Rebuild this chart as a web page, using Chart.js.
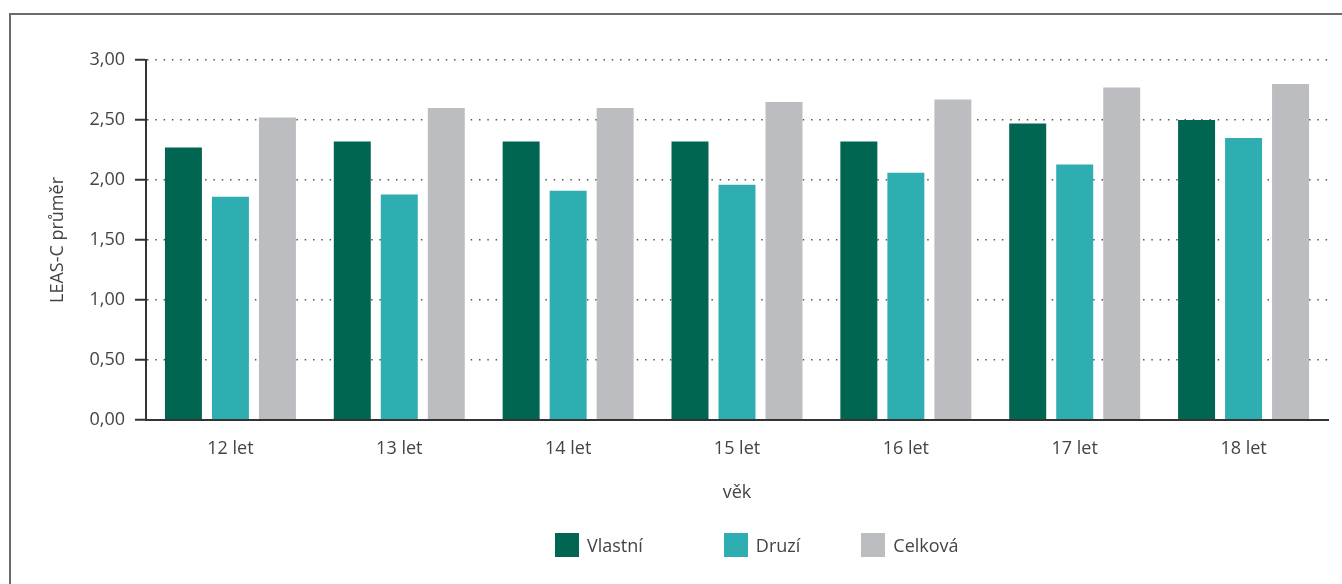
<!DOCTYPE html>
<html lang="cs">
<head>
    <meta charset="UTF-8">
    <title>LEAS-C průměr podle věku</title>
    <script src="https://cdn.jsdelivr.net/npm/chart.js"></script>
    <style>
        html, body { margin: 0; padding: 0; background: #fff; }
        body { width: 1342px; height: 584px; position: relative; overflow: hidden; font-family: "Open Sans", sans-serif; }
        .frame { position: absolute; left: 9px; top: 13px; right: -4px; bottom: -4px; border-top: 2px solid #6b6b6b; border-left: 2px solid #6b6b6b; }
        canvas { position: absolute; left: 0; top: 0; }
        #legend { position: absolute; left: 555px; top: 533px; display: flex; align-items: center; }
        #legend .item { display: flex; align-items: center; font-size: 18px; color: #444; }
        #legend .box { width: 24px; height: 24px; margin-right: 8px; }
    </style>
</head>
<body>
    <div class="frame"></div>
    <canvas id="chart" width="1342" height="584"></canvas>
    <div id="legend"></div>
    <script>
        // data
        const categories = ['12 let', '13 let', '14 let', '15 let', '16 let', '17 let', '18 let'];
        const vlastni = [2.27, 2.32, 2.32, 2.32, 2.32, 2.47, 2.50];
        const druzi = [1.86, 1.88, 1.91, 1.96, 2.06, 2.13, 2.35];
        const celkova = [2.52, 2.60, 2.60, 2.65, 2.67, 2.77, 2.80];
        const seriesNames = ['Vlastní', 'Druzí', 'Celková'];

        const colors = ['#006652', '#2eaeb0', '#bcbdc0'];
        const textColor = '#444';
        const font = { family: '"Open Sans", sans-serif', size: 18 };

        const datasets = [vlastni, druzi, celkova].map((d, i) => ({
            label: seriesNames[i],
            data: d,
            backgroundColor: colors[i],
            barPercentage: 0.787,
            categoryPercentage: 0.835
        }));

        new Chart(document.getElementById('chart'), {
            type: 'bar',
            data: { labels: categories, datasets: datasets },
            options: {
                responsive: false,
                animation: false,
                devicePixelRatio: 1,
                layout: { padding: { left: 43, top: 60, right: 14, bottom: 76 } },
                plugins: { legend: { display: false }, tooltip: { enabled: false } },
                scales: {
                    x: {
                        grid: { display: false },
                        border: { display: true, color: '#333', width: 2, z: 1 },
                        ticks: { padding: 10, color: textColor, font: font },
                        title: { display: true, text: 'věk', color: textColor, font: font },
                        afterFit: s => { s.height = 88; }
                    },
                    y: {
                        min: 0,
                        max: 3,
                        ticks: {
                            stepSize: 0.5,
                            padding: 10,
                            color: textColor,
                            font: font,
                            callback: v => v.toFixed(2).replace('.', ',')
                        },
                        grid: { color: '#555', lineWidth: 1.5, tickLength: 11, tickColor: '#333', tickWidth: 2, tickBorderDash: [] },
                        border: { display: true, color: '#333', width: 2, dash: [1.5, 6.8] },
                        title: { display: true, text: 'LEAS-C průměr', color: textColor, font: font },
                        afterFit: s => { s.width = 103; }
                    }
                }
            }
        });

        // legenda
        const gaps = [81, 61, 0];
        const legend = document.getElementById('legend');
        seriesNames.forEach((name, i) => {
            const item = document.createElement('div');
            item.className = 'item';
            item.style.marginRight = gaps[i] + 'px';
            item.innerHTML = '<span class="box" style="background:' + colors[i] + '"></span><span>' + name + '</span>';
            legend.appendChild(item);
        });
    </script>
</body>
</html>
